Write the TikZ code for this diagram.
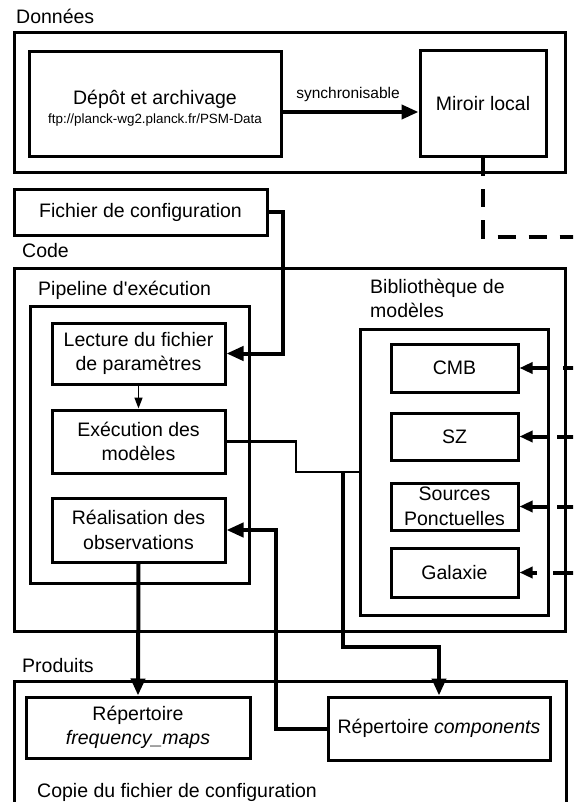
\documentclass[tikz,border=0pt]{standalone}
\usepackage{fontspec}
\setmainfont{Liberation Sans}
\usetikzlibrary{arrows.meta}
\begin{document}
\begin{tikzpicture}[x=1pt,y=-1pt,
  frame/.style={draw, line width=3pt, inner sep=0pt},
  box/.style={draw, line width=3pt, inner sep=0pt, align=center, font=\fontsize{19.5}{24.5}\selectfont},
  lbl/.style={inner sep=0pt, align=left, font=\fontsize{19.5}{24}\selectfont},
  conn/.style={line width=4pt, -{Triangle[length=17pt,width=14pt]}},
  modarrow/.style={line width=4pt, -{Triangle[length=13pt,width=11pt]}},
  thinconn/.style={line width=2.3pt},
  thinarrow/.style={line width=1.5pt, -{Triangle[length=11pt,width=8pt]}},
  dashline/.style={line width=4pt, dash pattern=on 18pt off 13pt},
  dashrow/.style={line width=4pt, dash pattern=on #1 off 40pt}
]
\useasboundingbox (0,0) rectangle (573,802);
\clip (0,0) rectangle (573,802);

% helper coordinates
\coordinate (syncy) at (0,112);
\coordinate (fc) at (283,0);
\coordinate (dashy) at (0,237);
\coordinate (dashend) at (590,0);
\coordinate (c296) at (296,0);
\coordinate (r472) at (0,472);
\coordinate (c343) at (343,0);
\coordinate (r647) at (0,647);
\coordinate (c276) at (276,0);
\coordinate (redge) at (577,0);
\coordinate (gx) at (537,0);

% Données
\node[lbl, anchor=base west] (donneesl) at (16,24) {Données};
\node[frame, minimum width=551pt, minimum height=140pt] (donnees) at (289.5,103) {};
\node[box, minimum width=252pt, minimum height=105pt] (depot) at (155,104.5) {};
\node[inner sep=0pt, anchor=base, font=\fontsize{19.5}{24}\selectfont] (depott) at (155,105) {Dépôt et archivage};
\node[inner sep=0pt, anchor=base, font=\fontsize{13.4}{16}\selectfont] (ftpt) at (155,124) {ftp://planck-wg2.planck.fr/PSM-Data};
\node[box, minimum width=126pt, minimum height=106pt] (miroir) at (483,104) {Miroir local};
\draw[conn] (depot.east |- syncy) -- (miroir.west |- syncy);
\node[inner sep=0pt, anchor=base, font=\fontsize{15.5}{18}\selectfont] (sync) at (348,99) {synchronisable};
\draw[dashline] (miroir.south) -- (miroir.south |- dashy) -- (dashend |- dashy);

% Fichier de configuration
\node[box, minimum width=253pt, minimum height=45pt] (fichier) at (140.5,212.5) {Fichier de configuration};

% Code
\node[lbl, anchor=base west] (codel) at (22,257) {Code};
\node[frame, minimum width=551pt, minimum height=363pt] (code) at (289.5,449.5) {};
\node[lbl, anchor=base west] (pipel) at (38,295) {Pipeline d\textquotesingle exécution};
\node[frame, minimum width=219pt, minimum height=277pt] (pipe) at (139.5,444.5) {};
\node[box, minimum width=173pt, minimum height=61pt] (lecture) at (138.5,353.5) {Lecture du fichier\\de paramètres};
\node[box, minimum width=173pt, minimum height=63pt] (execution) at (138.5,441.5) {Exécution des\\modèles};
\node[box, minimum width=173pt, minimum height=64pt] (realisation) at (138.5,530) {Réalisation des\\observations};

\node[lbl, anchor=north west] (bibl) at (370,279) {Bibliothèque de\\modèles};
\node[frame, minimum width=188pt, minimum height=286pt] (biblio) at (454,472) {};
\node[box, minimum width=127pt, minimum height=48pt] (cmb) at (454.5,368) {CMB};
\node[box, minimum width=127pt, minimum height=47pt] (sz) at (454.5,436.5) {SZ};
\node[box, minimum width=127pt, minimum height=47pt] (sources) at (454.5,506.5) {Sources\\Ponctuelles};
\node[box, minimum width=127pt, minimum height=49pt] (galaxie) at (454.5,572.5) {Galaxie};

% Produits
\node[lbl, anchor=base west] (prodl) at (22,672) {Produits};
\node[frame, minimum width=552pt, minimum height=160pt] (produits) at (290,761) {};
\node[box, minimum width=224pt, minimum height=61pt] (repfm) at (138,727.5) {Répertoire\\\textit{frequency\_maps}};
\node[box, minimum width=222pt, minimum height=63pt] (repcomp) at (439,728.5) {Répertoire \textit{components}};
\node[lbl, anchor=base west] (copie) at (37,797) {Copie du fichier de configuration};

% connectors
\draw[conn] (fichier.east) -- (fichier.east -| fc) -- (fc |- lecture.east) -- (lecture.east);
\draw[thinarrow] (lecture.south) -- (execution.north);
\draw[thinconn] (execution.east) -- (execution.east -| c296) -- (c296 |- r472) -- (biblio.west |- r472);
\coordinate (junction) at (c343 |- r472);
\draw[conn] (junction) -- (c343 |- r647) -- (repcomp.north |- r647) -- (repcomp.north);
\draw[conn] (realisation.south) -- (repfm.north);
\draw[conn] (repcomp.west) -- (repcomp.west -| c276) -- (c276 |- realisation.east) -- (realisation.east);

\draw[modarrow] (biblio.east |- cmb.east) -- (cmb.east);
\draw[modarrow] (biblio.east |- sz.east) -- (sz.east);
\draw[modarrow] (biblio.east |- sources.east) -- (sources.east);
\draw[modarrow] (gx |- galaxie.east) -- (galaxie.east);
\draw[dashrow=14pt] (redge |- cmb.east) -- (biblio.east |- cmb.east);
\draw[dashrow=20pt] (redge |- sz.east) -- (biblio.east |- sz.east);
\draw[dashrow=20pt] (redge |- sources.east) -- (biblio.east |- sources.east);
\draw[dashrow=24pt] (redge |- galaxie.east) -- (biblio.east |- galaxie.east);
\end{tikzpicture}
\end{document}
